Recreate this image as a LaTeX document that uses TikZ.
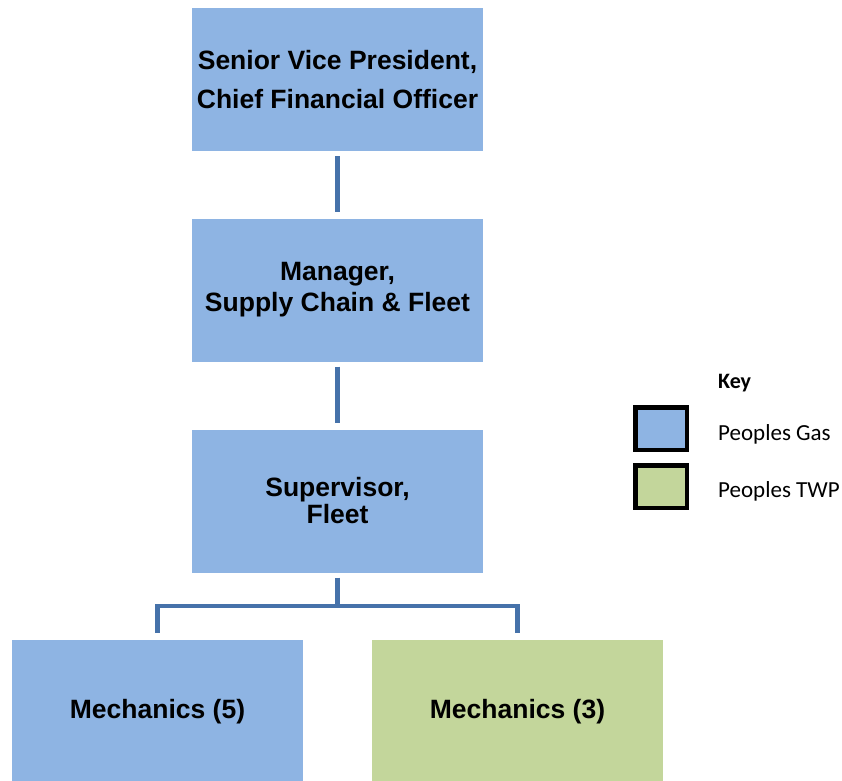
\documentclass[tikz,border=0pt]{standalone}
\usepackage{fontspec}
\setmainfont{Liberation Sans}
\newfontfamily\keyfont{Carlito}
\definecolor{gasblue}{HTML}{8EB4E3}
\definecolor{twpgreen}{HTML}{C3D69B}
\definecolor{linkblue}{HTML}{4672AA}
\tikzset{
  orgbox/.style={rectangle, fill=#1, minimum width=291pt, minimum height=143pt,
    inner sep=0pt, align=center, font=\fontsize{26.5}{30}\selectfont\bfseries},
  orgbox/.default=gasblue,
  conn/.style={draw=linkblue, line width=4.5pt},
  swatch/.style={rectangle, draw=black, line width=4.5pt, fill=#1,
    minimum width=51.5pt, minimum height=42.5pt, inner sep=0pt},
  keytext/.style={anchor=base west, inner sep=0pt, font=\keyfont\fontsize{23}{26}\selectfont}
}
\begin{document}
\begin{tikzpicture}[x=1pt, y=-1pt]
  \useasboundingbox (0,0) rectangle (842,780);
  \clip (0,0) rectangle (842,780);

  % chain of command
  \node[orgbox] (svp) at (337.5,79.5) {Senior Vice President,\\[9pt]Chief Financial Officer};
  \node[orgbox] (mgr) at (337.5,290) {Manager,\\[1pt]Supply Chain \& Fleet};
  \node[orgbox] (sup) at (337.5,501) {Supervisor,\\[-3pt]Fleet};
  \node[orgbox, minimum height=144pt] (mech1) at (157.5,712) {Mechanics (5)};
  \node[orgbox=twpgreen, minimum height=144pt] (mech2) at (517.5,712) {Mechanics (3)};

  % connectors
  \draw[conn, shorten <=5pt, shorten >=6pt] (svp.south) -- (mgr.north);
  \draw[conn, shorten <=5pt, shorten >=6pt] (mgr.south) -- (sup.north);
  \coordinate (bus) at (337.5,606);
  \draw[conn, shorten <=5pt] (sup.south) -- (bus);
  \draw[conn, shorten <=7pt, shorten >=7pt]
    (mech1.north) -- (mech1.north |- bus) -- (mech2.north |- bus) -- (mech2.north);

  % key
  \node[keytext, font=\keyfont\bfseries\fontsize{22}{25}\selectfont] (keyhead) at (718,388) {Key};
  \node[swatch=gasblue] (kgas) at (661,428.5) {};
  \node[keytext] (kgastxt) at (718,440) {Peoples Gas};
  \node[swatch=twpgreen] (ktwp) at (661,486.5) {};
  \node[keytext] (ktwptxt) at (718,497) {Peoples TWP};
\end{tikzpicture}
\end{document}
